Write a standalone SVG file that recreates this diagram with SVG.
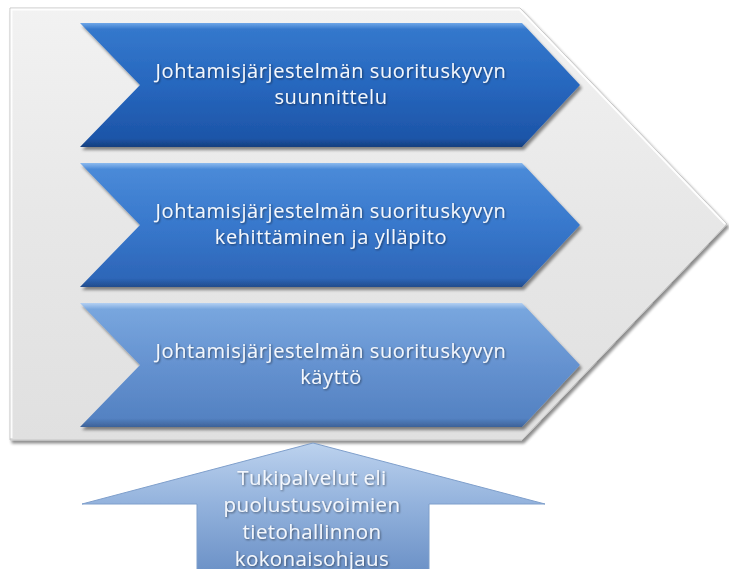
<svg xmlns="http://www.w3.org/2000/svg" width="729" height="569" viewBox="0 0 729 569">
  <style>
    .label { font-family: "Open Sans", "Noto Sans", "Liberation Sans", sans-serif; font-size: 20px; letter-spacing: 0.6px; fill: #F4F7FC; text-anchor: middle; }
    .base-label { font-family: "Open Sans", "Noto Sans", "Liberation Sans", sans-serif; font-size: 20.5px; letter-spacing: 0.4px; fill: #F4F7FC; text-anchor: middle; }
  </style>
  <defs>
    <linearGradient id="gBack" x1="0" y1="0" x2="0" y2="1">
      <stop offset="0" stop-color="#F2F2F2"/>
      <stop offset="0.5" stop-color="#E7E7E7"/>
      <stop offset="1" stop-color="#E0E0E0"/>
    </linearGradient>
    <linearGradient id="gDark" x1="0" y1="0" x2="0" y2="1">
      <stop offset="0" stop-color="#6FA6E8"/>
      <stop offset="0.05" stop-color="#3478CC"/>
      <stop offset="0.5" stop-color="#2767BE"/>
      <stop offset="0.93" stop-color="#1D55A8"/>
      <stop offset="1" stop-color="#163F7E"/>
    </linearGradient>
    <linearGradient id="gMid" x1="0" y1="0" x2="0" y2="1">
      <stop offset="0" stop-color="#8CBAEE"/>
      <stop offset="0.05" stop-color="#4A8AD8"/>
      <stop offset="0.5" stop-color="#3878CC"/>
      <stop offset="0.93" stop-color="#2D66B8"/>
      <stop offset="1" stop-color="#214C8C"/>
    </linearGradient>
    <linearGradient id="gLight" x1="0" y1="0" x2="0" y2="1">
      <stop offset="0" stop-color="#B4D0F2"/>
      <stop offset="0.05" stop-color="#78A6DE"/>
      <stop offset="0.5" stop-color="#6592D0"/>
      <stop offset="0.93" stop-color="#5482C2"/>
      <stop offset="1" stop-color="#3D6298"/>
    </linearGradient>
    <linearGradient id="gBase" x1="0" y1="0" x2="0" y2="1">
      <stop offset="0" stop-color="#BCD2EE"/>
      <stop offset="0.45" stop-color="#94B3DD"/>
      <stop offset="1" stop-color="#6A90C6"/>
    </linearGradient>
    <filter id="shadow" x="-5%" y="-5%" width="112%" height="115%">
      <feGaussianBlur in="SourceAlpha" stdDeviation="1.6"/>
      <feOffset dx="1.5" dy="2.5" result="b"/>
      <feComponentTransfer><feFuncA type="linear" slope="0.45"/></feComponentTransfer>
      <feMerge><feMergeNode/><feMergeNode in="SourceGraphic"/></feMerge>
    </filter>
    <filter id="textShadow" x="-5%" y="-20%" width="110%" height="150%">
      <feGaussianBlur in="SourceAlpha" stdDeviation="0.8"/>
      <feOffset dx="0.8" dy="1" result="b"/>
      <feComponentTransfer><feFuncA type="linear" slope="0.5"/></feComponentTransfer>
      <feMerge><feMergeNode/><feMergeNode in="SourceGraphic"/></feMerge>
    </filter>
  </defs>

  <rect width="729" height="569" fill="#FFFFFF"/>

  <!-- large pentagon backdrop -->
  <g id="backdrop" filter="url(#shadow)">
    <polygon points="10,8 520,8 727,224 522,440 10,440" fill="url(#gBack)" stroke="#C4C4C4" stroke-width="1"/>
    <polyline points="11.5,438 11.5,9.5 519.5,9.5 725,224" fill="none" stroke="#FFFFFF" stroke-width="2" opacity="0.9"/>
  </g>

  <!-- process chevrons -->
  <g id="planning" filter="url(#shadow)">
    <polygon points="80,23 522,23 580,85 522,147 80,147 140,85" fill="url(#gDark)"/>
    <text class="label" filter="url(#textShadow)"><tspan x="331" y="78">Johtamisjärjestelmän suorituskyvyn</tspan><tspan x="331" y="104">suunnittelu</tspan></text>
  </g>

  <g id="development" filter="url(#shadow)">
    <polygon points="80,163 522,163 580,225 522,287 80,287 140,225" fill="url(#gMid)"/>
    <text class="label" filter="url(#textShadow)"><tspan x="331" y="218">Johtamisjärjestelmän suorituskyvyn</tspan><tspan x="331" y="244">kehittäminen ja ylläpito</tspan></text>
  </g>

  <g id="usage" filter="url(#shadow)">
    <polygon points="80,303 522,303 580,365 522,427 80,427 140,365" fill="url(#gLight)"/>
    <text class="label" filter="url(#textShadow)"><tspan x="331" y="358">Johtamisjärjestelmän suorituskyvyn</tspan><tspan x="331" y="384">käyttö</tspan></text>
  </g>

  <!-- supporting arrow from below -->
  <g id="support">
    <polygon points="313,443 545,504 429,504 429,575 197,575 197,504 82,504" fill="url(#gBase)" stroke="#7F9FCB" stroke-width="1"/>
    <text class="base-label" filter="url(#textShadow)"><tspan x="312" y="485">Tukipalvelut eli</tspan><tspan x="312" y="512">puolustusvoimien</tspan><tspan x="312" y="539">tietohallinnon</tspan><tspan x="312" y="566">kokonaisohjaus</tspan></text>
  </g>
</svg>
